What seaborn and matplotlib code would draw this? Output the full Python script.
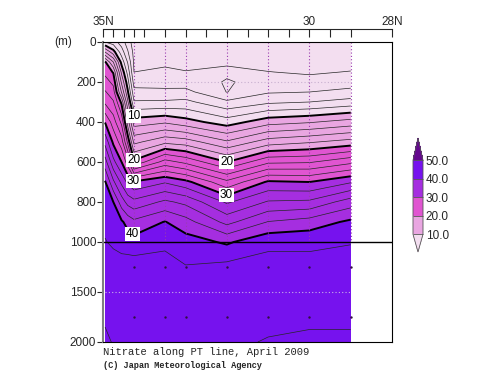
import numpy as np
import matplotlib
matplotlib.use('Agg')
import matplotlib.pyplot as plt
from matplotlib.colors import ListedColormap
from matplotlib.ticker import FixedLocator
import seaborn as sns

# Station latitudes (deg N) and depths (m) of the section grid
LATS = [34.95, 34.75, 34.55, 34.40, 34.25, 33.5, 33.0, 32.0, 31.0, 30.0, 29.0]
DEPTHS = [0, 50, 100, 150, 200, 250, 300, 400, 500, 600, 700, 800, 900,
          1000, 1250, 1500, 1750, 2000]

# Nitrate per station, surface to 2000 m
NO3_3495 = [8.0, 14.0, 20.3, 21.5, 22.8, 24.2, 25.6, 29.9, 33.4, 36.9, 40.2, 41.0, 41.6, 42.1, 42.8, 43.3, 43.8, 44.3]
NO3_3475 = [7.0, 10.8, 16.0, 19.8, 21.5, 22.8, 24.2, 27.0, 29.6, 32.6, 36.4, 40.0, 41.1, 41.7, 42.8, 43.1, 43.5, 43.9]
NO3_3455 = [5.0, 7.0, 9.3, 11.5, 13.6, 15.8, 19.5, 23.5, 27.0, 30.0, 33.5, 37.0, 40.3, 41.3, 42.8, 42.9, 43.1, 43.4]
NO3_3440 = [3.0, 4.2, 5.8, 7.3, 8.8, 10.3, 12.3, 17.0, 21.5, 27.0, 31.5, 35.3, 39.3, 41.1, 42.9, 43.0, 43.1, 43.3]
NO3_3425 = [1.0, 1.4, 1.7, 2.0, 3.2, 4.6, 6.2, 11.0, 15.5, 20.5, 30.3, 34.6, 38.5, 40.8, 43.0, 43.1, 43.1, 43.2]
NO3_3350 = [0.5, 0.9, 1.6, 2.4, 3.3, 4.4, 6.3, 11.7, 17.5, 24.8, 31.8, 36.4, 40.1, 41.5, 42.9, 42.9, 43.0, 43.1]
NO3_3300 = [0.5, 0.8, 1.3, 2.1, 3.0, 4.6, 6.5, 10.8, 17.0, 23.5, 30.6, 35.5, 38.8, 40.9, 42.1, 42.7, 42.9, 43.0]
NO3_3200 = [0.3, 0.6, 1.8, 2.3, 1.85, 1.95, 4.4, 9.0, 14.3, 20.0, 26.5, 31.7, 35.4, 39.7, 42.6, 42.7, 42.6, 42.3]
NO3_3100 = [0.2, 0.4, 1.2, 2.05, 2.6, 3.8, 5.6, 11.2, 17.0, 23.6, 30.3, 34.2, 38.1, 41.5, 42.8, 42.7, 42.4, 41.9]
NO3_3000 = [0.2, 0.4, 0.9, 1.7, 2.8, 4.0, 6.0, 11.8, 17.8, 23.8, 30.0, 34.4, 38.9, 41.5, 42.8, 42.8, 42.3, 41.7]
NO3_2900 = [0.2, 0.5, 1.1, 2.1, 3.2, 4.5, 6.8, 12.8, 18.8, 25.5, 31.8, 37.0, 40.4, 41.9, 42.8, 42.8, 42.2, 41.8]

# Observation stations (dotted profiles) and bottle depths below 1000 m
STATION_LATS = [34.25, 33.5, 33.0, 32.0, 31.0, 30.0, 29.0]
DEEP_BOTTLES = [1250, 1750]

CLEVS = [10, 20, 30, 40, 50]
FILL_COLORS = ['#E9A6E1', '#E055D1', '#A52EE0', '#7612EE']
UNDER_COLOR = '#F3DEF0'
OVER_COLOR = '#65098F'


def fwd(d):
    d = np.asarray(d, dtype=float)
    return np.where(d <= 1000, d, 1000 + (d - 1000) / 2)


def inv(y):
    y = np.asarray(y, dtype=float)
    return np.where(y <= 1000, y, 1000 + (y - 1000) * 2)


def main():
    sns.set_style('ticks')
    plt.rcParams['font.family'] = ['Liberation Sans', 'DejaVu Sans']

    no3 = np.array([NO3_3495, NO3_3475, NO3_3455, NO3_3440, NO3_3425, NO3_3350,
                    NO3_3300, NO3_3200, NO3_3100, NO3_3000, NO3_2900]).T
    lat_grid, dep_grid = np.meshgrid(LATS, DEPTHS)

    fig = plt.figure(figsize=(5.0, 3.87), dpi=100)
    ax = fig.add_axes([103 / 500, 1 - 342 / 387, 289 / 500, 300 / 387])
    ax.set_yscale('function', functions=(fwd, inv))
    ax.set_xlim(35, 28)
    ax.set_ylim(2000, 0)

    cmap = ListedColormap(FILL_COLORS)
    cmap.set_under(UNDER_COLOR)
    cmap.set_over(OVER_COLOR)
    cf = ax.contourf(lat_grid, dep_grid, no3, levels=CLEVS, cmap=cmap, extend='both')

    thin = [v for v in range(2, 50, 2) if v % 10 != 0]
    ax.contour(lat_grid, dep_grid, no3, levels=thin, colors='#262626', linewidths=0.5)
    cs = ax.contour(lat_grid, dep_grid, no3, levels=[10, 20, 30, 40], colors='black',
                    linewidths=1.4)
    spots = [(34.25, 370), (34.25, 590), (32.0, 600), (34.25, 690), (32.0, 755), (34.25, 950)]
    labels = ax.clabel(cs, levels=[10, 20, 30, 40], manual=spots, inline=False,
                       fmt='%d', fontsize=8.5)
    for t in labels:
        t.set_rotation(0)
        t.set_bbox(dict(boxstyle='square,pad=0.08', fc='white', ec='none'))

    # station profiles and light reference lines
    ax.vlines(STATION_LATS, 0, 1000, colors='#9a3cb0', linestyles=(0, (1, 2)), linewidth=0.8)
    ax.hlines(200, STATION_LATS[0], LATS[-1], colors='#c8b0d0', linestyles=(0, (1, 2)), linewidth=0.8)
    ax.hlines(1500, LATS[0], LATS[-1], colors='#c8b0e8', linestyles=(0, (1, 2)), linewidth=0.8)
    deep_lat = [lat for lat in STATION_LATS for _ in DEEP_BOTTLES]
    deep_dep = [d for _ in STATION_LATS for d in DEEP_BOTTLES]
    sns.scatterplot(x=deep_lat, y=deep_dep, s=3, color='#301040', linewidth=0, ax=ax, legend=False)
    ax.axhline(1000, color='black', linewidth=1.0)

    # axes styling
    for sp in ax.spines.values():
        sp.set_linewidth(0.8)
        sp.set_color('black')
    ax.spines['left'].set_color('#808080')
    ax.spines['left'].set_linewidth(1.5)
    ax.set_yticks([0, 200, 400, 600, 800, 1000, 1500, 2000])
    ax.set_yticklabels(['0', '200', '400', '600', '800', '1000', '1500', '2000'])
    ax.yaxis.set_minor_locator(FixedLocator([]))
    ax.tick_params(axis='y', direction='out', length=4, width=0.8, labelsize=8.5, pad=1)
    ax.tick_params(axis='x', bottom=False, top=False, labelbottom=False)
    ax.set_xlabel('')
    ax.set_ylabel('')

    sec = ax.secondary_xaxis(1 + 13 / 300)
    sec.set_xticks([35, 30, 28])
    sec.set_xticklabels(['35N', '30', '28N'])
    sec.xaxis.set_minor_locator(FixedLocator([34.75, 34.5, 34.25, 34.0, 33.5, 33.0, 32.5, 32.0,
                                              31.5, 31.0, 30.5, 29.5, 29.0]))
    sec.tick_params(which='both', direction='in', length=6, width=0.8, labelsize=8.5, pad=1)
    sec.spines['top'].set_linewidth(0.8)

    fig.text(63 / 500, 1 - 42 / 387, '(m)', ha='center', va='center', fontsize=8.5)

    # colour bar: axes spans both triangle tips, body 10..50 is 74 px
    cax = fig.add_axes([413 / 500, 1 - 252 / 387, 10 / 500, 114 / 387])
    cb = fig.colorbar(cf, cax=cax, extend='both', ticks=CLEVS, format='%.1f',
                      extendfrac=[0.24, 0.3], drawedges=True)
    cb.outline.set_edgecolor('#555555')
    cb.outline.set_linewidth(0.6)
    cb.dividers.set_color('#555555')
    cb.dividers.set_linewidth(0.6)
    cax.tick_params(length=0, labelsize=8.5, pad=2)

    fig.text(103 / 500, 1 - 352 / 387, 'Nitrate along PT line, April 2009',
             family=['Liberation Mono', 'DejaVu Sans Mono'], fontsize=7.6, va='center')
    fig.text(103 / 500, 1 - 366 / 387, '(C) Japan Meteorological Agency',
             family=['Liberation Mono', 'DejaVu Sans Mono'], fontweight='bold', fontsize=6.2,
             va='center')

    fig.savefig('out.png', dpi=100)


if __name__ == '__main__':
    main()
